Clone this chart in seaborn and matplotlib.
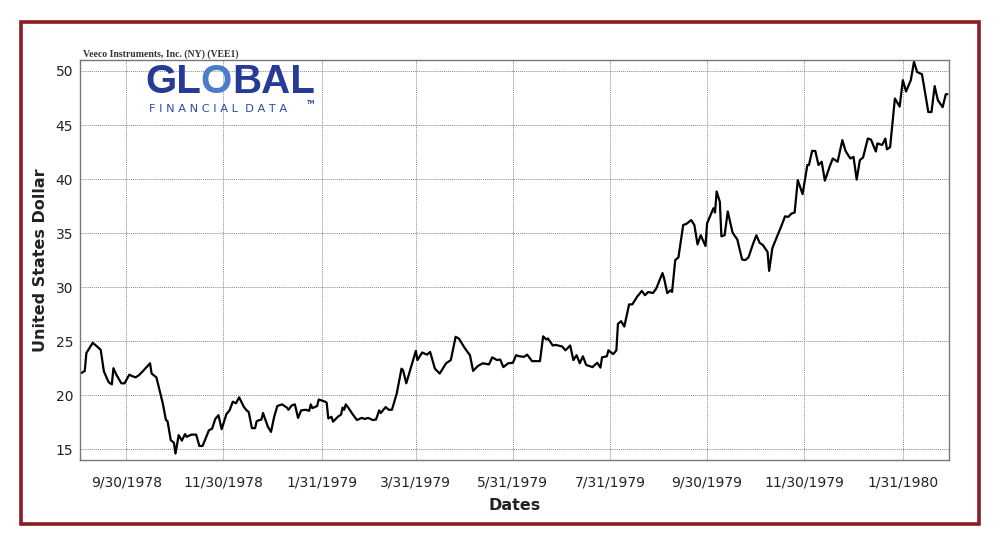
import matplotlib
matplotlib.use("Agg")
import matplotlib.pyplot as plt
import matplotlib.dates as mdates
from matplotlib.ticker import MultipleLocator, FuncFormatter
from matplotlib.patches import Rectangle
from matplotlib.transforms import offset_copy
import seaborn as sns
import pandas as pd

TITLE = "Veeco Instruments, Inc. (NY) (VEE1)"

# price trace
dates = [
    "1978-09-02", "1978-09-04", "1978-09-05", "1978-09-09", "1978-09-11", "1978-09-14",
    "1978-09-16", "1978-09-19", "1978-09-21", "1978-09-22", "1978-09-24", "1978-09-27",
    "1978-09-29", "1978-10-02", "1978-10-04", "1978-10-06", "1978-10-08", "1978-10-11",
    "1978-10-15", "1978-10-16", "1978-10-19", "1978-10-23", "1978-10-25", "1978-10-26",
    "1978-10-28", "1978-10-30", "1978-10-31", "1978-11-02", "1978-11-04", "1978-11-06",
    "1978-11-07", "1978-11-10", "1978-11-13", "1978-11-15", "1978-11-17", "1978-11-21",
    "1978-11-23", "1978-11-25", "1978-11-27", "1978-11-29", "1978-12-02", "1978-12-04",
    "1978-12-06", "1978-12-08", "1978-12-10", "1978-12-13", "1978-12-15", "1978-12-16",
    "1978-12-18", "1978-12-20", "1978-12-21", "1978-12-24", "1978-12-25", "1978-12-28",
    "1978-12-30", "1979-01-01", "1979-01-03", "1979-01-06", "1979-01-09", "1979-01-10",
    "1979-01-12", "1979-01-14", "1979-01-16", "1979-01-18", "1979-01-21", "1979-01-23",
    "1979-01-24", "1979-01-25", "1979-01-28", "1979-01-29", "1979-02-02", "1979-02-03",
    "1979-02-04", "1979-02-06", "1979-02-07", "1979-02-10", "1979-02-12", "1979-02-13",
    "1979-02-14", "1979-02-15", "1979-02-17", "1979-02-19", "1979-02-22", "1979-02-25",
    "1979-02-27", "1979-03-01", "1979-03-04", "1979-03-06", "1979-03-08", "1979-03-09",
    "1979-03-12", "1979-03-14", "1979-03-16", "1979-03-19", "1979-03-22", "1979-03-23",
    "1979-03-25", "1979-03-28", "1979-03-31", "1979-04-01", "1979-04-04", "1979-04-07",
    "1979-04-09", "1979-04-12", "1979-04-15", "1979-04-19", "1979-04-22", "1979-04-25",
    "1979-04-27", "1979-05-01", "1979-05-04", "1979-05-06", "1979-05-09", "1979-05-12",
    "1979-05-16", "1979-05-18", "1979-05-21", "1979-05-23", "1979-05-25", "1979-05-28",
    "1979-05-31", "1979-06-02", "1979-06-04", "1979-06-07", "1979-06-09", "1979-06-12",
    "1979-06-17", "1979-06-19", "1979-06-21", "1979-06-22", "1979-06-25", "1979-06-27",
    "1979-07-01", "1979-07-03", "1979-07-06", "1979-07-08", "1979-07-10", "1979-07-12",
    "1979-07-14", "1979-07-16", "1979-07-20", "1979-07-23", "1979-07-25", "1979-07-26",
    "1979-07-29", "1979-07-30", "1979-08-02", "1979-08-04", "1979-08-05", "1979-08-07",
    "1979-08-09", "1979-08-12", "1979-08-14", "1979-08-17", "1979-08-20", "1979-08-22",
    "1979-08-24", "1979-08-27", "1979-08-29", "1979-09-02", "1979-09-03", "1979-09-05",
    "1979-09-07", "1979-09-08", "1979-09-10", "1979-09-12", "1979-09-15", "1979-09-17",
    "1979-09-20", "1979-09-22", "1979-09-24", "1979-09-26", "1979-09-29", "1979-09-30",
    "1979-10-04", "1979-10-05", "1979-10-06", "1979-10-08", "1979-10-09", "1979-10-11",
    "1979-10-13", "1979-10-16", "1979-10-19", "1979-10-22", "1979-10-24", "1979-10-26",
    "1979-10-29", "1979-10-31", "1979-11-02", "1979-11-04", "1979-11-07", "1979-11-08",
    "1979-11-10", "1979-11-13", "1979-11-15", "1979-11-18", "1979-11-20", "1979-11-22",
    "1979-11-24", "1979-11-26", "1979-11-29", "1979-12-02", "1979-12-03", "1979-12-05",
    "1979-12-07", "1979-12-09", "1979-12-11", "1979-12-13", "1979-12-16", "1979-12-18",
    "1979-12-21", "1979-12-24", "1979-12-26", "1979-12-29", "1979-12-31", "1980-01-02",
    "1980-01-04", "1980-01-06", "1980-01-09", "1980-01-11", "1980-01-14", "1980-01-15",
    "1980-01-18", "1980-01-20", "1980-01-21", "1980-01-23", "1980-01-26", "1980-01-29",
    "1980-01-31", "1980-02-02", "1980-02-05", "1980-02-07", "1980-02-09", "1980-02-12",
    "1980-02-13", "1980-02-16", "1980-02-18", "1980-02-20", "1980-02-22", "1980-02-25",
    "1980-02-27", "1980-02-28",
]
prices = [
    22.06, 22.25, 23.9, 24.85, 24.6, 24.2,
    22.2, 21.2, 21.0, 22.5, 21.85, 21.1,
    21.1, 21.9, 21.75, 21.65, 21.85, 22.3,
    22.95, 22.0, 21.65, 19.25, 17.7, 17.6,
    15.85, 15.6, 14.6, 16.3, 15.8, 16.4,
    16.15, 16.35, 16.35, 15.3, 15.3, 16.75,
    16.9, 17.8, 18.15, 16.85, 18.25, 18.6,
    19.4, 19.25, 19.8, 18.9, 18.55, 18.45,
    16.95, 16.95, 17.6, 17.75, 18.35, 17.1,
    16.6, 18.0, 19.0, 19.15, 18.85, 18.65,
    19.05, 19.15, 17.9, 18.6, 18.65, 18.55,
    19.15, 18.8, 19.0, 19.6, 19.4, 19.3,
    17.85, 18.0, 17.55, 18.0, 18.2, 18.85,
    18.65, 19.15, 18.75, 18.3, 17.7, 17.9,
    17.8, 17.9, 17.7, 17.75, 18.6, 18.35,
    18.9, 18.65, 18.65, 20.15, 22.45, 22.3,
    21.1, 22.6, 24.1, 23.25, 23.95, 23.75,
    24.0, 22.45, 22.0, 22.95, 23.25, 25.4,
    25.25, 24.3, 23.7, 22.25, 22.7, 22.95,
    22.85, 23.5, 23.25, 23.3, 22.6, 22.95,
    23.0, 23.7, 23.6, 23.55, 23.75, 23.15,
    23.15, 25.45, 25.15, 25.25, 24.6, 24.65,
    24.5, 24.15, 24.6, 23.25, 23.7, 22.95,
    23.6, 22.8, 22.6, 23.0, 22.55, 23.5,
    23.6, 24.15, 23.8, 24.15, 26.6, 26.85,
    26.35, 28.4, 28.4, 29.1, 29.65, 29.25,
    29.55, 29.45, 29.85, 31.3, 30.8, 29.45,
    29.7, 29.55, 32.5, 32.75, 35.75, 35.85,
    36.2, 35.75, 33.95, 34.8, 33.8, 35.9,
    37.3, 36.9, 38.85, 37.9, 34.7, 34.8,
    37.0, 35.05, 34.4, 32.55, 32.5, 32.75,
    34.05, 34.8, 34.1, 33.9, 33.25, 31.5,
    33.6, 34.7, 35.4, 36.55, 36.5, 36.8,
    36.9, 39.9, 38.6, 41.3, 41.3, 42.6,
    42.6, 41.3, 41.6, 39.85, 41.15, 41.9,
    41.6, 43.6, 42.6, 41.9, 42.05, 39.95,
    41.75, 42.0, 43.75, 43.65, 42.55, 43.3,
    43.15, 43.75, 42.75, 42.95, 47.45, 46.7,
    49.15, 48.1, 49.15, 50.85, 49.9, 49.7,
    48.85, 46.2, 46.2, 48.6, 47.3, 46.65,
    47.85, 47.85,
]

df = pd.DataFrame({"Dates": pd.to_datetime(dates), "Price": prices})

sns.set_style("white")
plt.rcParams["font.family"] = ["DejaVu Sans"]

fig = plt.figure(figsize=(10, 5.47), dpi=100)
ax = fig.add_axes([0.080, 0.159, 0.869, 0.731])

sns.lineplot(data=df, x="Dates", y="Price", ax=ax, color="black", linewidth=1.6)

ax.set_xlim(pd.Timestamp("1978-09-01"), pd.Timestamp("1980-02-29"))
ax.set_ylim(14, 51)

ax.xaxis.set_major_locator(mdates.MonthLocator(bymonth=[1, 3, 5, 7, 9, 11], bymonthday=-1))
ax.xaxis.set_minor_locator(mdates.MonthLocator(bymonthday=[15, -1]))
ax.xaxis.set_major_formatter(FuncFormatter(
    lambda v, pos: "{d.month}/{d.day}/{d.year}".format(d=mdates.num2date(v))))
ax.yaxis.set_major_locator(MultipleLocator(5))
ax.yaxis.set_minor_locator(MultipleLocator(1))

ax.grid(True, which="major", color="#8a8a8a", linestyle=(0, (1, 1)), linewidth=0.7)
ax.tick_params(axis="both", which="major", direction="out", length=3.5, width=0.8,
               color="#777777", labelsize=10, labelcolor="#222222")
ax.tick_params(axis="x", which="major", pad=7.5)
ax.tick_params(axis="y", which="major", pad=1.5)
ax.tick_params(axis="both", which="minor", direction="out", length=2.2, width=0.6,
               color="#999999")
for s in ax.spines.values():
    s.set_color("#777777")
    s.set_linewidth(1.0)

ax.set_xlabel("Dates", fontsize=11.5, fontweight="bold", color="#222222", labelpad=6)
ax.set_ylabel("United States Dollar", fontsize=11.5, fontweight="bold", color="#222222",
              labelpad=5)

ax.text(0.003, 1.004, TITLE, transform=ax.transAxes, ha="left", va="bottom",
        fontsize=7, fontweight="bold", family=["Liberation Serif"], color="#333333")

# logo: "GL" + lighter globe "O" + "BAL"
fig.canvas.draw()
renderer = fig.canvas.get_renderer()
tr = fig.transFigure
for part, col in [("GL", "#263a96"), ("O", "#4a7cc8"), ("BAL", "#263a96")]:
    t = fig.text(0.145, 0.815, part, fontsize=29, fontweight="bold", color=col,
                 family=["Liberation Sans"], ha="left", va="bottom", transform=tr)
    w = t.get_window_extent(renderer).width
    tr = offset_copy(tr, fig=fig, x=w * 72 / fig.dpi, units="points")
fig.text(0.149, 0.792, "F I N A N C I A L  D A T A", fontsize=8.2, color="#2e4aa8",
         family=["DejaVu Sans"], ha="left", va="bottom")
fig.text(0.307, 0.808, "TM", fontsize=3.5, fontweight="bold", color="#2e4aa8",
         ha="left", va="bottom")

# outer frame
fig.patches.append(Rectangle((0.021, 0.042), 0.958, 0.918, transform=fig.transFigure,
                             fill=False, edgecolor="#8b1c24", linewidth=2.6))

fig.savefig("out.png", dpi=100)
